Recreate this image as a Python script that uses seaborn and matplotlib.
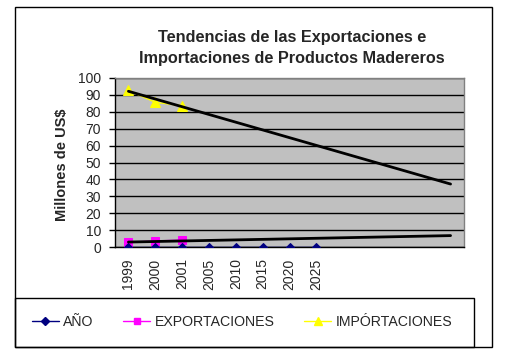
import numpy as np
import matplotlib
matplotlib.use("Agg")
import matplotlib.pyplot as plt
from matplotlib.patches import Rectangle
from matplotlib.lines import Line2D
import seaborn as sns

# data
categories = ["1999", "2000", "2001", "2005", "2010", "2015", "2020", "2025",
              "", "", "", "", ""]
anio = [0, 0, 0, 0, 0, 0, 0, 0]
exportaciones = [3.0, 3.7, 4.3]
importaciones = [92.5, 85.5, 83.5]
# linear trend lines (start value at 1999, end value at last category)
trend_exp = [3.1, 6.9]
trend_imp = [92.0, 37.3]

sns.set_theme(style="white")
plt.rcParams["font.family"] = ["Liberation Sans", "DejaVu Sans"]

W, H = 505, 362
fig = plt.figure(figsize=(W / 100, H / 100), dpi=100)
fig.patch.set_facecolor("white")

# plot area in pixel coords
L, R, T, B = 115, 464, 77.7, 247.3
ax = fig.add_axes([L / W, 1 - B / H, (R - L) / W, (B - T) / H])
ax.set_facecolor("#C0C0C0")

n = len(categories)
x_all = np.arange(n)

sns.lineplot(x=x_all[:len(anio)], y=anio, ax=ax, color="#000080", lw=1,
             marker="D", markersize=4, markeredgecolor="#000080", zorder=4)
sns.lineplot(x=x_all[:len(exportaciones)], y=exportaciones, ax=ax, color="#FF00FF",
             lw=1, marker="s", markersize=5.5, markeredgecolor="#FF00FF", zorder=3)
sns.lineplot(x=x_all[:len(importaciones)], y=importaciones, ax=ax, color="#FFFF00",
             lw=1, marker="^", markersize=6.5, markeredgecolor="#FFFF00", zorder=3)

# trend lines
sns.lineplot(x=[0, n - 1], y=trend_imp, ax=ax, color="black", lw=2, zorder=5)
sns.lineplot(x=[0, n - 1], y=trend_exp, ax=ax, color="black", lw=2, zorder=5)

ax.set_xlim(-0.5, n - 0.5)
ax.set_ylim(0, 100)
ax.set_yticks(np.arange(0, 101, 10))
ax.yaxis.grid(True, color="black", lw=1)
ax.set_axisbelow(True)
ax.set_xticks(x_all)
ax.set_xticklabels(categories, rotation=90, fontsize=10)
ax.set_xticks(np.arange(n + 1) - 0.5, minor=True)
ax.tick_params(axis="x", which="major", length=0, pad=8)
ax.tick_params(axis="x", which="minor", length=4, width=1, color="black", direction="out")
ax.tick_params(axis="y", length=4, width=1, color="black", direction="out",
               labelsize=10, pad=6, left=True)
ax.set_xlabel("")
ax.set_ylabel("")
for side in ["top", "right"]:
    ax.spines[side].set_color("#808080")
    ax.spines[side].set_linewidth(1)
for side in ["left", "bottom"]:
    ax.spines[side].set_color("black")
    ax.spines[side].set_linewidth(1)
if ax.get_legend():
    ax.get_legend().remove()

# titles
fig.text(292 / W, 1 - 48 / H,
         "Tendencias de las Exportaciones e\nImportaciones de Productos Madereros",
         ha="center", va="center", fontsize=11.7, fontweight="bold", linespacing=1.45)
fig.text(62 / W, 1 - 165 / H, "Millones de US$", rotation=90, ha="center",
         va="center", fontsize=10.5, fontweight="bold")

# outer chart border and legend box
fig.add_artist(Rectangle((15 / W, 1 - 347 / H), 477 / W, 340 / H, transform=fig.transFigure,
                         fill=False, edgecolor="black", lw=1))
fig.add_artist(Rectangle((15 / W, 1 - 347 / H), 459 / W, 49 / H, transform=fig.transFigure,
                         fill=False, edgecolor="black", lw=1))

handles = [
    Line2D([], [], color="#000080", lw=1, marker="D", markersize=4),
    Line2D([], [], color="#FF00FF", lw=1, marker="s", markersize=5),
    Line2D([], [], color="#FFFF00", lw=1, marker="^", markersize=5.5),
]
labels = ["AÑO", "EXPORTACIONES", "IMPÓRTACIONES"]
fig.legend(handles, labels, loc="center left", bbox_to_anchor=(32 / W, 1 - 322 / H),
           ncol=3, frameon=False, fontsize=10.2, borderpad=0, borderaxespad=0,
           handlelength=1.9, handletextpad=0.3, columnspacing=2.1)

fig.savefig("out.png", dpi=100)
